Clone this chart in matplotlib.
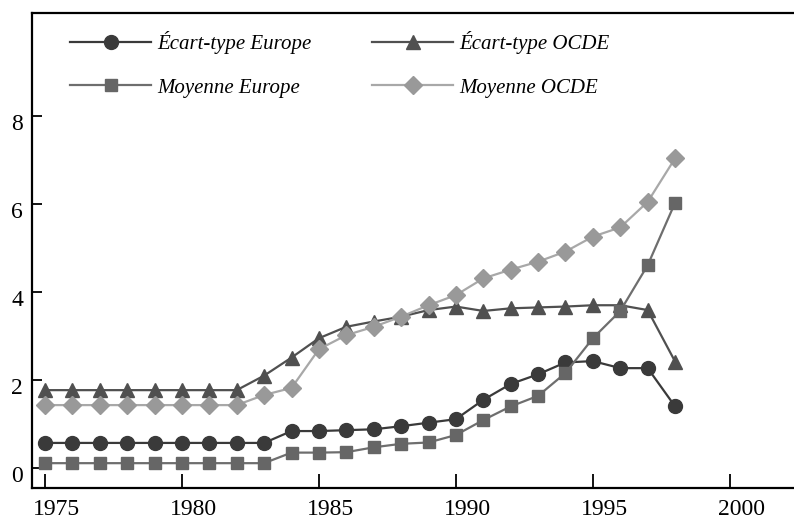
import matplotlib
matplotlib.use("Agg")
import matplotlib.pyplot as plt
import matplotlib.transforms as mtransforms
import numpy as np

years = list(range(1975, 1999))

ecart_europe = [0.57, 0.57, 0.57, 0.57, 0.57, 0.57, 0.57, 0.57, 0.57,
                0.84, 0.84, 0.86, 0.88, 0.95, 1.03, 1.11, 1.55, 1.91,
                2.13, 2.40, 2.43, 2.27, 2.27, 1.40]
ecart_ocde = [1.77, 1.77, 1.77, 1.77, 1.77, 1.77, 1.77, 1.77, 2.10,
              2.51, 2.95, 3.21, 3.33, 3.44, 3.59, 3.67, 3.57, 3.63,
              3.65, 3.67, 3.70, 3.70, 3.59, 2.42]
moyenne_europe = [0.11, 0.11, 0.11, 0.11, 0.11, 0.11, 0.11, 0.11, 0.11,
                  0.35, 0.35, 0.36, 0.47, 0.55, 0.58, 0.75, 1.09, 1.40,
                  1.64, 2.16, 2.95, 3.57, 4.61, 6.03]
moyenne_ocde = [1.43, 1.43, 1.43, 1.43, 1.43, 1.43, 1.43, 1.43, 1.66,
                1.82, 2.70, 3.02, 3.21, 3.44, 3.70, 3.93, 4.31, 4.51,
                4.69, 4.92, 5.26, 5.47, 6.05, 7.04]

labels = ["Écart-type Europe", "Moyenne Europe", "Écart-type OCDE", "Moyenne OCDE"]
xticks = [1975, 1980, 1985, 1990, 1995, 2000]
yticks = [0, 2, 4, 6, 8]

fig = plt.figure(figsize=(7.94, 5.2), dpi=100)
ax = fig.add_axes([31.5 / 794, 32 / 520, 1 - 31.5 / 794, (488 - 12.7) / 520])

lw = 1.6
h1, = ax.plot(years, ecart_europe, color="#3a3a3a", lw=lw, marker="o", ms=10,
              mec="#3a3a3a", mfc="#3a3a3a", zorder=3)
h3, = ax.plot(years, ecart_ocde, color="#505050", lw=lw, marker="^", ms=10.5,
              mec="#505050", mfc="#505050", zorder=2)
h2, = ax.plot(years, moyenne_europe, color="#6e6e6e", lw=lw, marker="s", ms=8,
              mec="#666666", mfc="#666666", zorder=4)
h4, = ax.plot(years, moyenne_ocde, color="#a8a8a8", lw=lw, marker="D", ms=9.5,
              mec="#999999", mfc="#999999", zorder=5)

ax.set_xlim(1974.51, 2002.34)
ax.set_ylim(-0.4545, 10.35)

ax.set_xticks(xticks)
ax.set_xticklabels([str(t) for t in xticks])
ax.set_yticks(yticks)
ax.set_yticklabels([str(t) for t in yticks])

for lab in ax.get_xticklabels() + ax.get_yticklabels():
    lab.set_fontfamily("Liberation Serif")
    lab.set_fontsize(17)

ax.tick_params(axis="x", direction="in", length=10, width=1.3, pad=8, colors="black")
ax.tick_params(axis="y", direction="in", length=7, width=1.3, pad=6, colors="black")

dx = mtransforms.ScaledTranslation(12 / 100, 0, fig.dpi_scale_trans)
for lab in ax.get_xticklabels():
    lab.set_transform(lab.get_transform() + dx)
dy = mtransforms.ScaledTranslation(0, -6 / 100, fig.dpi_scale_trans)
for lab in ax.get_yticklabels():
    lab.set_transform(lab.get_transform() + dy)

for side in ["left", "top", "bottom"]:
    ax.spines[side].set_linewidth(1.6)
    ax.spines[side].set_color("black")
ax.spines["right"].set_visible(False)

leg = ax.legend([h1, h2, h3, h4], labels, ncol=2, frameon=False,
                loc="upper left", bbox_to_anchor=(70 / 794, 1 - 31 / 520),
                bbox_transform=fig.transFigure, borderpad=0, borderaxespad=0,
                handlelength=3.9, handletextpad=0.3, columnspacing=2.9,
                labelspacing=1.15,
                prop={"family": "Liberation Serif", "style": "italic", "size": 15})

fig.savefig("out.png", dpi=100, facecolor="white")
